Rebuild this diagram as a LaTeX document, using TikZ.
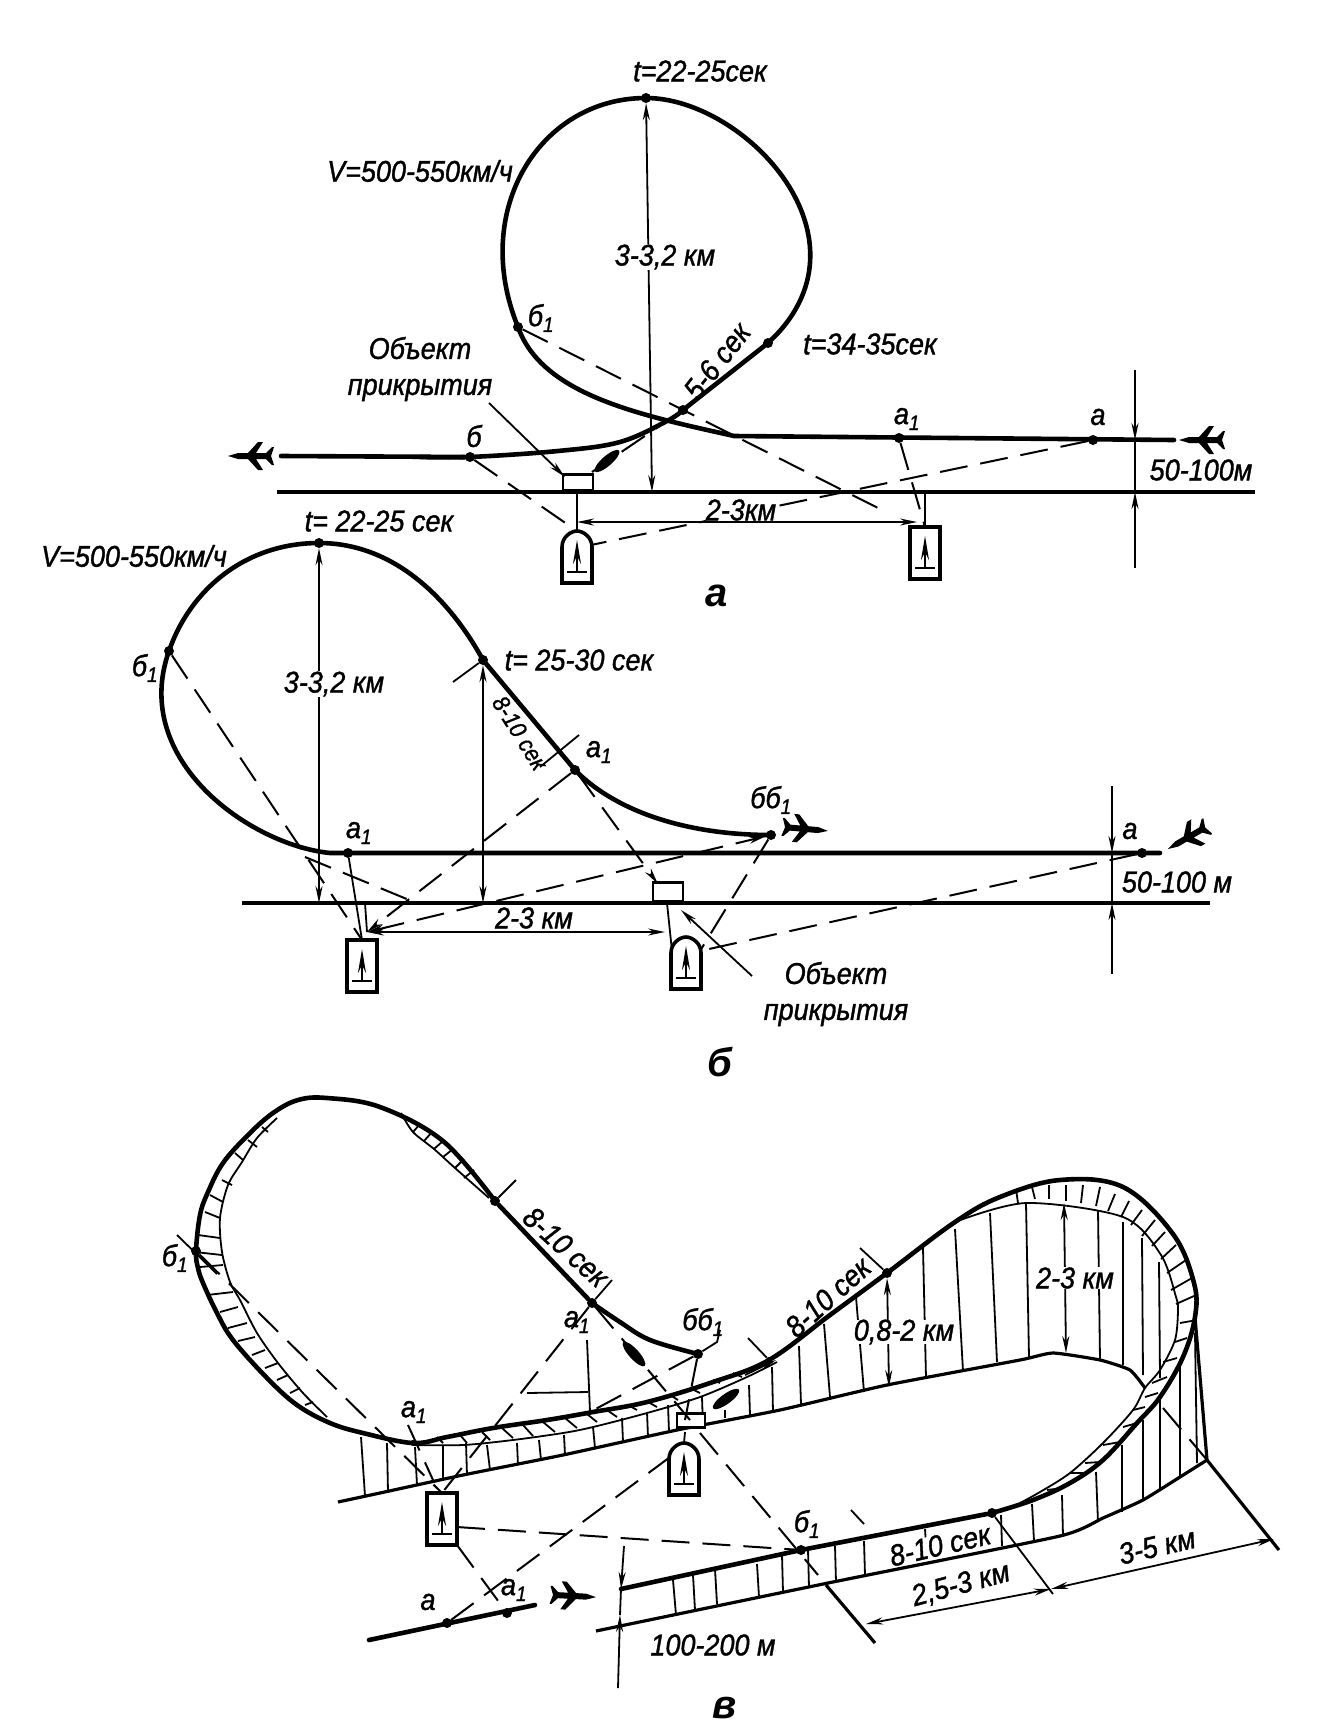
\documentclass[tikz,border=0pt]{standalone}
\usepackage{fontspec}
\setmainfont{Liberation Sans}[ItalicFeatures={FakeBold=1.2,FakeStretch=0.9}]
\usetikzlibrary{arrows.meta}
\begin{document}
\begin{tikzpicture}[
    x=1pt, y=-1pt,
    >={Stealth[length=17pt,width=7pt]},
    pt/.style={circle, fill, inner sep=0pt, minimum size=10pt},
    traj/.style={line width=4.6pt, line cap=round},
    ground/.style={line width=3.2pt},
    thinl/.style={line width=1.8pt},
    dim/.style={<->, line width=1.8pt},
    arrow/.style={->, line width=1.8pt},
    dashl/.style={line width=2pt, dash pattern=on 28pt off 13pt},
    lbl/.style={font=\fontsize{30}{36}\selectfont\itshape, inner sep=1pt, align=center},
    lblw/.style={lbl, fill=white},
    capt/.style={font=\fontsize{40}{40}\selectfont\bfseries\itshape, inner sep=0pt},
    objbox/.style={draw, fill=white, line width=2.6pt, inner sep=0pt, minimum width=30pt, minimum height=16pt},
    plane/.pic={\fill (22,0) -- (12,-3) -- (2,-3) -- (-8,-14) -- (-13,-14) -- (-6,-3) -- (-16,-3) -- (-22,-9) -- (-24,-9) -- (-21,0) -- (-24,9) -- (-22,9) -- (-16,3) -- (-6,3) -- (-13,14) -- (-8,14) -- (2,3) -- (12,3) -- cycle;},
    rocket/.pic={\fill (0,0) ellipse [x radius=16, y radius=5];},
    locrect/.pic={
        \draw[line width=3.6pt, fill=white] (-15,-26) rectangle (15,26);
        \draw[-{Stealth[length=24pt,width=8pt]}, line width=2pt] (0,15) -- (0,-17);
        \draw[line width=2.8pt] (-10,15) -- (10,15);
        \coordinate (-top) at (0,-26); \coordinate (-right) at (15,8); \coordinate (-bottom) at (15,26);
    },
    locround/.pic={
        \draw[line width=3.6pt, fill=white] (-15,26) -- (-15,-10) .. controls (-15,-20) and (-6,-26) .. (0,-26) .. controls (6,-26) and (15,-20) .. (15,-10) -- (15,26) -- cycle;
        \draw[-{Stealth[length=24pt,width=8pt]}, line width=2pt] (0,15) -- (0,-17);
        \draw[line width=2.8pt] (-10,15) -- (10,15);
        \coordinate (-top) at (0,-26); \coordinate (-right) at (14,-12); \coordinate (-left) at (-14,-12);
    }
]
    \useasboundingbox (0,0) rectangle (1344,1735);

    % Panel a
    \node[pt] (atop) at (646,98) {};
    \node[pt] (ab1) at (518,327) {};
    \node[pt] (at34) at (768,343) {};
    \node[pt] (acr) at (683,410) {};
    \node[pt] (aa1) at (899,438) {};
    \node[pt] (aa) at (1093,440) {};
    \node[pt] (ab) at (470,457) {};
    \coordinate (aend) at (1174,440);
    \coordinate (astart) at (281,456);
    \coordinate (astr) at (734,436);
    \draw[traj] (aend) -- (astr) .. controls (640,415) and (542,395) .. (ab1.center) .. controls (470,210) and (540,98) .. (atop.center) .. controls (745,98) and (880,240) .. (at34.center) -- (acr.center);
    \draw[traj] plot[smooth, tension=0.6] coordinates {(acr.center) (667,421) (620,442) (558,451) (ab.center) (420,457)};
    \draw[traj] (ab) -- (astart);
    \coordinate (aglL) at (277,492);
    \coordinate (aglR) at (1255,492);
    \draw[ground] (aglL) -- (aglR);
    \node[objbox, anchor=south] (aobj) at (578,492) {};
    \pic (alocr) at (577,557) {locround};
    \pic (alocs) at (925,553) {locrect};
    \pic[rotate=180] at (250,456) {plane};
    \pic[rotate=180] at (1201,440) {plane};
    \pic[rotate=41] at (607,461) {rocket};

    % Panel a heights
    \coordinate (aground) at (652,492);
    \draw[dim] (atop) -- (aground);
    \coordinate (ahu) at (1135,370);
    \coordinate (ah1) at (1135,440);
    \coordinate (ah2) at (1135,492);
    \coordinate (ahd) at (1135,568);
    \draw[arrow] (ahu) -- (ah1);
    \draw[thinl] (ah1) -- (ah2);
    \draw[arrow] (ahd) -- (ah2);
    \coordinate (adL) at (577,522);
    \coordinate (adR) at (917,522);
    \coordinate (aobjb) at (577,492);
    \coordinate (agr) at (925,492);
    \draw[dim] (adL) -- (adR);
    \draw[thinl] (aobjb) -- (alocr-top);
    \draw[thinl] (agr) -- (alocs-top);

    % Panel a sight lines
    \coordinate (adash1) at (880,509);
    \coordinate (adash2) at (592,472);
    \coordinate (aobjl) at (489,403);
    \coordinate (aobjt) at (565,477);
    \draw[dashl] (ab1) -- (adash1);
    \draw[dashl] (ab) -- (alocr-top);
    \draw[dashl] (aa) -- (alocr-right);
    \draw[dashl] (aa1) -- (alocs-top);
    \draw[dashl] (acr) -- (adash2);
    \draw[arrow] (aobjl) -- (aobjt);

    % Panel a labels
    \node[lbl] (lt1) at (700,71) {t=22-25сек};
    \node[lbl] (lv1) at (420,171) {V=500-550км/ч};
    \node[lblw] (lh1) at (665,257) {3-3,2 км};
    \node[lbl] (lb1) at (541,318) {б\textsubscript{1}};
    \node[lbl] (lt2) at (870,344) {t=34-35сек};
    \node[lbl, rotate=52] (ls1) at (717,361) {5-6 сек};
    \node[lbl] (lobj1) at (420,369) {Объект\\прикрытия};
    \node[lbl] (lb2) at (474,436) {б};
    \node[lbl] (la1) at (907,419) {а\textsubscript{1}};
    \node[lbl] (la2) at (1098,417) {а};
    \node[lbl] (lm1) at (1201,470) {50-100м};
    \node[lblw, inner sep=0pt] (lk1) at (741,510) {2-3км};
    \node[capt] (capa) at (717,596) {а};

    % Panel b
    \node[pt] (btop) at (319,543) {};
    \node[pt] (bb1) at (169,651) {};
    \node[pt] (bt25) at (483,660) {};
    \node[pt] (ba1r) at (575,770) {};
    \node[pt] (bbb) at (771,835) {};
    \node[pt] (ba1) at (348,853) {};
    \node[pt] (ba) at (1142,853) {};
    \coordinate (bend) at (1160,853);
    \coordinate (bstr) at (330,853);
    \draw[traj] (bend) -- (bstr) .. controls (250,845) and (130,760) .. (bb1.center) .. controls (190,590) and (245,543) .. (btop.center) .. controls (395,543) and (450,600) .. (bt25.center) -- (ba1r.center) .. controls (612,808) and (680,835) .. (bbb.center);
    \coordinate (bglL) at (242,903);
    \coordinate (bglR) at (1210,903);
    \draw[ground] (bglL) -- (bglR);
    \node[objbox, anchor=south, minimum height=19pt] (bobj) at (668,903) {};
    \pic (bloc1) at (362,966) {locrect};
    \pic (bloc2) at (686,963) {locround};
    \pic[rotate=-5] at (806,829) {plane};
    \pic[rotate=210] at (1187,838) {plane};

    % Panel b heights
    \coordinate (bg1) at (319,903);
    \coordinate (bg2) at (483,903);
    \coordinate (btk1) at (453,682);
    \coordinate (btk2) at (579,735);
    \coordinate (btk3) at (540,767);
    \draw[dim] (btop) -- (bg1);
    \draw[dim] (bt25) -- (bg2);
    \draw[thinl] (btk1) -- (bt25);
    \draw[thinl] (btk2) -- (btk3);
    \coordinate (bhu) at (1112,786);
    \coordinate (bh1) at (1112,853);
    \coordinate (bh2) at (1112,903);
    \coordinate (bhd) at (1112,974);
    \draw[arrow] (bhu) -- (bh1);
    \draw[thinl] (bh1) -- (bh2);
    \draw[arrow] (bhd) -- (bh2);
    \coordinate (bdL) at (367,932);
    \coordinate (bdR) at (665,932);
    \coordinate (bgr1) at (365,903);
    \coordinate (bgr2) at (667,903);
    \draw[dim] (bdL) -- (bdR);
    \draw[thinl] (bgr1) -- (bdL);
    \draw[thinl] (bgr2) -- (bloc2-left);

    % Panel b sight lines
    \coordinate (bdash1) at (305,857);
    \coordinate (bdash2) at (414,902);
    \coordinate (bobjt) at (658,884);
    \coordinate (bobjl) at (752,976);
    \coordinate (bobjb) at (681,910);
    \draw[dashl] (bb1) -- (bloc1-top);
    \draw[thinl] (ba1) -- (bloc1-top);
    \draw[dashl, ->] (ba1r) -- (bdL);
    \draw[dashl, ->] (ba1r) -- (bobjt);
    \draw[dashl, <->] (bdL) -- (bbb);
    \draw[dashl] (bbb) -- (bloc2-right);
    \draw[dashl] (bdash1) -- (bdash2);
    \draw[dashl] (ba) -- (bloc2-right);
    \draw[arrow] (bobjl) -- (bobjb);

    % Panel b labels
    \node[lbl] (lt3) at (379,521) {t= 22-25 сек};
    \node[lbl] (lv2) at (134,556) {V=500-550км/ч};
    \node[lblw] (lh2) at (334,684) {3-3,2 км};
    \node[lbl] (lb3) at (145,668) {б\textsubscript{1}};
    \node[lbl] (lt4) at (579,660) {t= 25-30 сек};
    \node[lbl, rotate=-58, font=\fontsize{24}{26}\selectfont\itshape] (ls2) at (520,733) {8-10 сек};
    \node[lbl] (la3) at (599,752) {а\textsubscript{1}};
    \node[lbl] (lb4) at (771,800) {бб\textsubscript{1}};
    \node[lbl] (la4) at (359,833) {а\textsubscript{1}};
    \node[lbl] (la5) at (1130,831) {а};
    \node[lbl] (lm2) at (1177,882) {50-100 м};
    \node[lblw, inner sep=0pt] (lk2) at (534,918) {2-3 км};
    \node[lbl] (lobj2) at (836,994) {Объект\\прикрытия};
    \node[capt] (capb) at (720,1062) {б};

    % Panel c walls
    \foreach \xa/\ya/\xb/\yb in {361/1437/365/1496, 387/1443/388/1492, 415/1447/417/1485, 443/1445/443/1480, 466/1443/467/1475, 487/1445/490/1470, 517/1443/518/1465, 539/1440/541/1460, 564/1435/565/1455, 593/1427/595/1448, 622/1418/623/1442, 647/1412/648/1437, 668/1405/669/1432, 702/1397/703/1427, 725/1410/725/1418, 749/1385/750/1415, 772/1367/773/1412, 799/1346/801/1404, 824/1324/830/1397, 856/1297/864/1392, 923/1248/926/1378, 955/1229/963/1371, 990/1213/997/1362, 1026/1203/1029/1357, 1098/1210/1100/1360, 1123/1222/1123/1365, 1142/1238/1143/1375, 1159/1262/1160/1378, 1180/1365/1180/1477, 1195/1333/1197/1463, 1160/1400/1160/1490, 1143/1420/1143/1500, 1122/1445/1122/1512, 1096/1472/1098/1522, 1062/1495/1063/1536, 1032/1504/1034/1541, 1001/1515/1002/1546, 925/1529/927/1559, 864/1541/865/1575, 835/1546/836/1582, 808/1550/809/1587, 782/1555/783/1592, 757/1564/759/1597, 715/1569/717/1604, 693/1575/695/1610, 673/1580/676/1615}
        \draw[thinl] (\xa,\ya) -- (\xb,\yb);

    % Panel c strip ticks
    \foreach \xa/\ya/\xb/\yb in {1016/1189/1018/1203, 1032/1187/1035/1199, 1049/1185/1049/1199, 1066/1185/1066/1201, 1083/1185/1081/1203, 1100/1187/1096/1206, 1115/1194/1108/1211, 1129/1201/1121/1217, 1142/1210/1131/1225, 1155/1220/1142/1236, 1165/1232/1152/1246, 1176/1245/1161/1259, 1186/1260/1167/1273, 1192/1278/1171/1290, 1194/1296/1176/1304, 1197/1320/1180/1323, 1187/1338/1175/1342, 1177/1358/1163/1362, 1167/1377/1152/1383, 1158/1393/1145/1397, 1145/1407/1133/1410, 1137/1423/1123/1427, 1120/1442/1103/1445, 1100/1462/1085/1463, 1083/1473/1070/1473, 1063/1488/1047/1490, 262/1127/268/1132, 248/1140/257/1147, 235/1153/243/1160, 222/1180/232/1185, 210/1195/223/1202, 205/1212/220/1218, 198/1235/220/1238, 195/1252/222/1255, 200/1267/223/1265, 207/1295/233/1292, 220/1312/238/1307, 228/1328/247/1323, 238/1341/255/1337, 252/1355/265/1350, 265/1368/278/1363, 277/1380/288/1375, 290/1393/300/1388, 305/1405/313/1402, 420/1124/413/1132, 432/1132/424/1141, 443/1141/434/1149, 453/1149/443/1157, 464/1159/455/1168, 474/1170/464/1178, 437/1437/443/1443, 460/1435/467/1443, 482/1432/490/1440, 502/1428/513/1438, 523/1425/533/1436, 543/1422/555/1432, 565/1418/577/1428, 587/1414/597/1422, 607/1410/617/1417, 628/1405/637/1410, 648/1402/657/1407, 670/1395/678/1400, 690/1388/700/1393, 713/1380/720/1383, 733/1373/742/1377}
        \draw[thinl] (\xa,\ya) -- (\xb,\yb);

    % Panel c inner lines
    \draw[thinl] plot[smooth] coordinates {(277,1118) (257,1138) (242,1162) (228,1185) (220,1218) (222,1252) (230,1282) (240,1300) (257,1333) (278,1363) (303,1393) (327,1417)};
    \draw[thinl] plot[smooth] coordinates {(401,1113) (413,1132) (434,1149) (455,1168) (489,1198)};
    \draw[thinl] plot[smooth] coordinates {(413,1445) (463,1445) (513,1440) (563,1433) (593,1427) (647,1413) (700,1397) (747,1377) (777,1362)};
    \draw[thinl] plot[smooth] coordinates {(955,1222) (1026,1203) (1123,1217) (1161,1255) (1176,1297) (1178,1310) (1175,1340) (1160,1370) (1145,1388) (1133,1410) (1103,1443) (1070,1473) (1040,1492) (1020,1503)};

    % Panel c ground
    \draw[ground] plot[smooth, tension=0.3] coordinates {(338,1502) (380,1493) (463,1475) (563,1455) (677,1430) (780,1410) (887,1385) (1020,1360) (1053,1353) (1100,1360) (1130,1370) (1145,1388)};
    \draw[ground] plot[smooth, tension=0.3] coordinates {(596,1631) (828,1583) (1060,1536) (1103,1518) (1143,1500) (1180,1477) (1207,1460)};
    \coordinate (cwall) at (1207,1460);
    \coordinate (cwallt) at (1195,1317);
    \draw[ground] (cwall) -- (cwallt);

    % Panel c track
    \node[pt] (cbb) at (698,1354) {};
    \node[pt] (cp1) at (592,1303) {};
    \node[pt] (cp2) at (495,1201) {};
    \node[pt] (cb1) at (196,1251) {};
    \node[pt, minimum size=6pt] (ca1) at (413,1443) {};
    \node[pt] (cp3) at (887,1273) {};
    \node[pt, minimum size=6pt] (cp4) at (769,1360) {};
    \node[pt] (cp5) at (992,1513) {};
    \node[pt] (cb2) at (801,1550) {};
    \node[pt] (caa) at (447,1623) {};
    \node[pt] (caa1) at (507,1613) {};
    \coordinate (cstart) at (621,1589);
    \draw[traj] plot[smooth, tension=0.6] coordinates {(cbb.center) (650,1340) (620,1322) (cp1.center)};
    \draw[traj] (cp1) -- (cp2);
    \draw[traj] plot[smooth, tension=0.6] coordinates {(cp2.center) (443,1141) (380,1107) (327,1098) (298,1100) (273,1113) (248,1135) (223,1163) (208,1192) (200,1215) (cb1.center) (198,1268) (203,1283) (217,1313) (233,1340) (267,1378) (297,1405) (330,1423) (363,1433) (413,1443) (447,1437) (493,1428) (547,1420) (593,1412) (647,1402) (713,1382) (cp4.center) (830,1315) (cp3.center) (955,1222) (1000,1197) (1060,1180) (1123,1187) (1173,1234) (1194,1283) (1195,1317) (1183,1357) (1160,1397) (1137,1423) (1103,1460) (1070,1483) (1033,1500) (cp5.center)};
    \draw[traj] (cp5) -- (cb2) -- (cstart);
    \coordinate (cinL) at (369,1640);
    \coordinate (cinR) at (535,1605);
    \draw[traj] (cinL) -- (cinR);

    % Panel c objects
    \node[objbox, anchor=south, minimum width=28pt, minimum height=14pt] (cobj) at (691,1429) {};
    \pic (cloc1) at (442,1519) {locrect};
    \pic (cloc2) at (684,1469) {locround};
    \pic[rotate=-3] at (574,1596) {plane};
    \pic[rotate=-48] at (634,1354) {rocket};
    \pic[rotate=36] at (726,1399) {rocket};

    % Panel c sight lines
    \coordinate (cend1) at (818,1575);
    \coordinate (cobjb) at (700,1433);
    \coordinate (cobjt) at (690,1420);
    \coordinate (cobjd) at (685,1420);
    \coordinate (cobjp) at (685,1432);
    \coordinate (cbbh) at (717,1342);
    \coordinate (cbbu) at (720,1330);
    \coordinate (cs1) at (527,1393);
    \coordinate (cs2) at (588,1392);
    \coordinate (cs3) at (587,1340);
    \coordinate (cs4) at (590,1412);
    \coordinate (ca1t) at (408,1425);
    \coordinate (ca1b) at (433,1480);
    \coordinate (ctip1) at (745,1375);
    \coordinate (ctip2) at (776,1360);
    \draw[dashl] (cloc1-right) -- (cb2);
    \draw[dashl] (cobjb) -- (cend1);
    \draw[dashl] (cloc1-bottom) -- (caa1);
    \draw[dashl] (caa) -- (cloc2-left);
    \draw[dashl] (cb1) -- (cloc1-top);
    \draw[dashl] (cp1) -- (cloc1-top);
    \draw[dashl] (cbb) -- (cs4);
    \draw[dashl] (cp1) -- (cobjt);
    \draw[dashl] (cbb) -- (cobjd);
    \draw[dashl] (ca1t) -- (ca1b);
    \draw[thinl] (cobjp) -- (cloc2-top);
    \draw[thinl] (cbb) -- (cbbh) -- (cbbu);
    \draw[thinl] (cs3) -- (cs4);
    \draw[thinl] (cs1) -- (cs2);
    \draw[arrow] (ctip1) -- (ctip2);

    % Panel c ticks
    \coordinate (ct1) at (516,1180);
    \coordinate (ct2) at (612,1280);
    \coordinate (ct3) at (860,1248);
    \coordinate (ct4) at (748,1338);
    \coordinate (ct5) at (1053,1594);
    \coordinate (ct6) at (1279,1550);
    \coordinate (ct7a) at (826,1585);
    \coordinate (ct7b) at (875,1643);
    \coordinate (ct8a) at (177,1235);
    \coordinate (ct8b) at (217,1274);
    \coordinate (ct9a) at (851,1510);
    \coordinate (ct9b) at (864,1524);
    \coordinate (ct10) at (1163,1408);
    \draw[thinl] (ct1) -- (cp2);
    \draw[thinl] (ct2) -- (cp1);
    \draw[thinl] (ct3) -- (cp3);
    \draw[thinl] (ct4) -- (cp4);
    \draw[thinl] (cp5) -- (ct5);
    \draw[ground] (cwall) -- (ct6);
    \draw[ground] (ct7a) -- (ct7b);
    \draw[thinl] (ct8a) -- (ct8b);
    \draw[thinl] (ct9a) -- (ct9b);
    \draw[dashl] (ct10) -- (cwall);

    % Panel c dimensions
    \coordinate (cdm1) at (866,1624);
    \coordinate (cdm2) at (1051,1589);
    \coordinate (cdm3) at (1274,1539);
    \coordinate (chu) at (624,1546);
    \coordinate (chd) at (618,1688);
    \coordinate (ch2) at (620,1615);
    \coordinate (cq1) at (889,1387);
    \coordinate (cq2) at (1064,1203);
    \coordinate (cq3) at (1066,1353);
    \draw[dim] (cdm1) -- (cdm2);
    \draw[dim] (cdm2) -- (cdm3);
    \draw[arrow] (chu) -- (cstart);
    \draw[thinl] (cstart) -- (ch2);
    \draw[arrow] (chd) -- (ch2);
    \draw[dim] (cp3) -- (cq1);
    \draw[dim] (cq2) -- (cq3);

    % Panel c labels
    \node[lbl] (lb5) at (175,1258) {б\textsubscript{1}};
    \node[lbl, rotate=-42] (ls3) at (566,1247) {8-10 сек};
    \node[lbl] (la6) at (577,1322) {а\textsubscript{1}};
    \node[lbl] (lb6) at (703,1322) {бб\textsubscript{1}};
    \node[lbl, rotate=42] (ls4) at (828,1297) {8-10 сек};
    \node[lblw, inner sep=0pt] (lk3) at (904,1332) {0,8-2 км};
    \node[lblw, inner sep=0pt] (lk4) at (1075,1278) {2-3 км};
    \node[lbl] (la7) at (414,1412) {а\textsubscript{1}};
    \node[lbl] (lb7) at (807,1524) {б\textsubscript{1}};
    \node[lblw, rotate=13, inner sep=0pt] (ls5) at (940,1545) {8-10 сек};
    \node[lbl, rotate=15] (lk5) at (961,1585) {2,5-3 км};
    \node[lbl, rotate=13] (lk6) at (1157,1546) {3-5 км};
    \node[lbl] (la8) at (428,1602) {а};
    \node[lbl] (la9) at (514,1590) {а\textsubscript{1}};
    \node[lbl] (lm3) at (713,1645) {100-200 м};
    \node[capt] (capc) at (725,1708) {в};
\end{tikzpicture}
\end{document}
